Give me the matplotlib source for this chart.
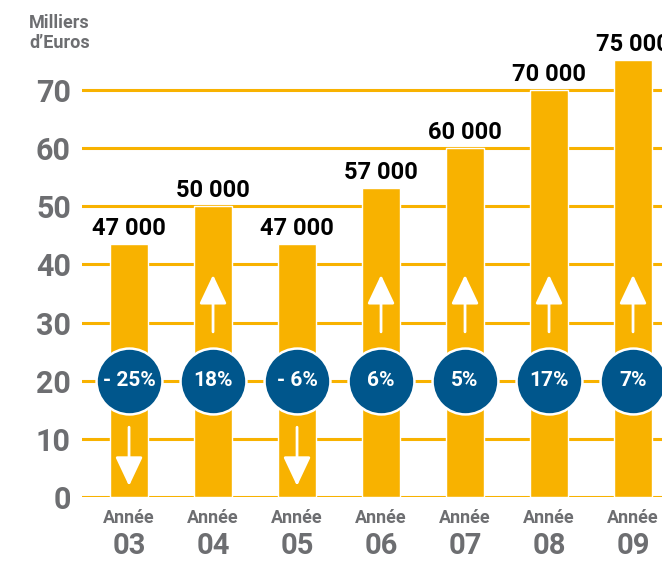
import matplotlib
matplotlib.use("Agg")
import matplotlib.pyplot as plt
from matplotlib import font_manager as fm

years = ["03", "04", "05", "06", "07", "08", "09"]
bar_heights = [43.5, 50, 43.5, 53.2, 60, 70, 75.2]
value_labels = ["47 000", "50 000", "47 000", "57 000", "60 000", "70 000", "75 000"]
pct_labels = ["- 25%", "18%", "- 6%", "6%", "5%", "17%", "7%"]
directions = ["down", "up", "down", "up", "up", "up", "up"]
yticks = [0, 10, 20, 30, 40, 50, 60, 70]

names = {f.name for f in fm.fontManager.ttflist}
fam = ["Liberation Sans Narrow", "DejaVu Sans"] if "Liberation Sans Narrow" in names else ["Roboto", "DejaVu Sans"]
plt.rcParams["font.family"] = fam

ORANGE = "#F8B200"
BLUE = "#00568C"
GRAY = "#6D6E71"

W, H = 662, 561
fig = plt.figure(figsize=(W / 100, H / 100), dpi=100)
ax = fig.add_axes([82 / W, (H - 497) / H, 1 - 82 / W, 497 / H])
ax.set_xlim(-0.56, 6.345)
ax.set_ylim(0, 85.48)
for s in ax.spines.values():
    s.set_visible(False)
ax.set_xticks([])
ax.set_yticks(yticks)
ax.set_yticklabels([str(t) for t in yticks], fontsize=22, fontweight="bold", color=GRAY)
ax.tick_params(axis="y", length=0, pad=8)

for t in yticks:
    ax.axhline(t, color=ORANGE, lw=2.2, zorder=1)

x = list(range(len(years)))
ax.bar(x, bar_heights, width=0.46, color=ORANGE, edgecolor="white", linewidth=1.0, zorder=2)

for i, (h, lab) in enumerate(zip(bar_heights, value_labels)):
    ax.annotate(lab, (i, h), xytext=(0, 3), textcoords="offset points",
                ha="center", va="bottom", fontsize=17, fontweight="bold", color="black",
                annotation_clip=False)

# circles with percentages
ax.scatter(x, [20] * len(x), s=2250, color=BLUE, edgecolor="white", linewidth=1.8, zorder=4)
for i, p in enumerate(pct_labels):
    ax.text(i, 20, p, ha="center", va="center", fontsize=15, fontweight="bold", color="white", zorder=5)

# arrows
astyle = "-|>,head_length=1.8,head_width=0.85"
for i, d in enumerate(directions):
    if d == "up":
        ax.annotate("", xy=(i, 38.2), xytext=(i, 28.4),
                    arrowprops=dict(arrowstyle=astyle, color="white", lw=2,
                                    shrinkA=0, shrinkB=0), zorder=3)
    else:
        ax.annotate("", xy=(i, 1.9), xytext=(i, 12.0),
                    arrowprops=dict(arrowstyle=astyle, color="white", lw=2,
                                    shrinkA=0, shrinkB=0), zorder=3)

# x labels
for i, y in enumerate(years):
    ax.annotate("Année", (i, 0), xytext=(0, -21 * 0.72), textcoords="offset points",
                ha="center", va="center", fontsize=13, fontweight="bold", color=GRAY,
                annotation_clip=False)
    ax.annotate(y, (i, 0), xytext=(0, -49 * 0.72), textcoords="offset points",
                ha="center", va="center", fontsize=21, fontweight="bold", color=GRAY,
                annotation_clip=False)

fig.text(29 / W, 1 - 14 / H, "Milliers\nd\u2019Euros", ha="left", va="top",
         fontsize=13, fontweight="bold", color=GRAY, linespacing=1.15)

fig.savefig("out.png", dpi=100)
